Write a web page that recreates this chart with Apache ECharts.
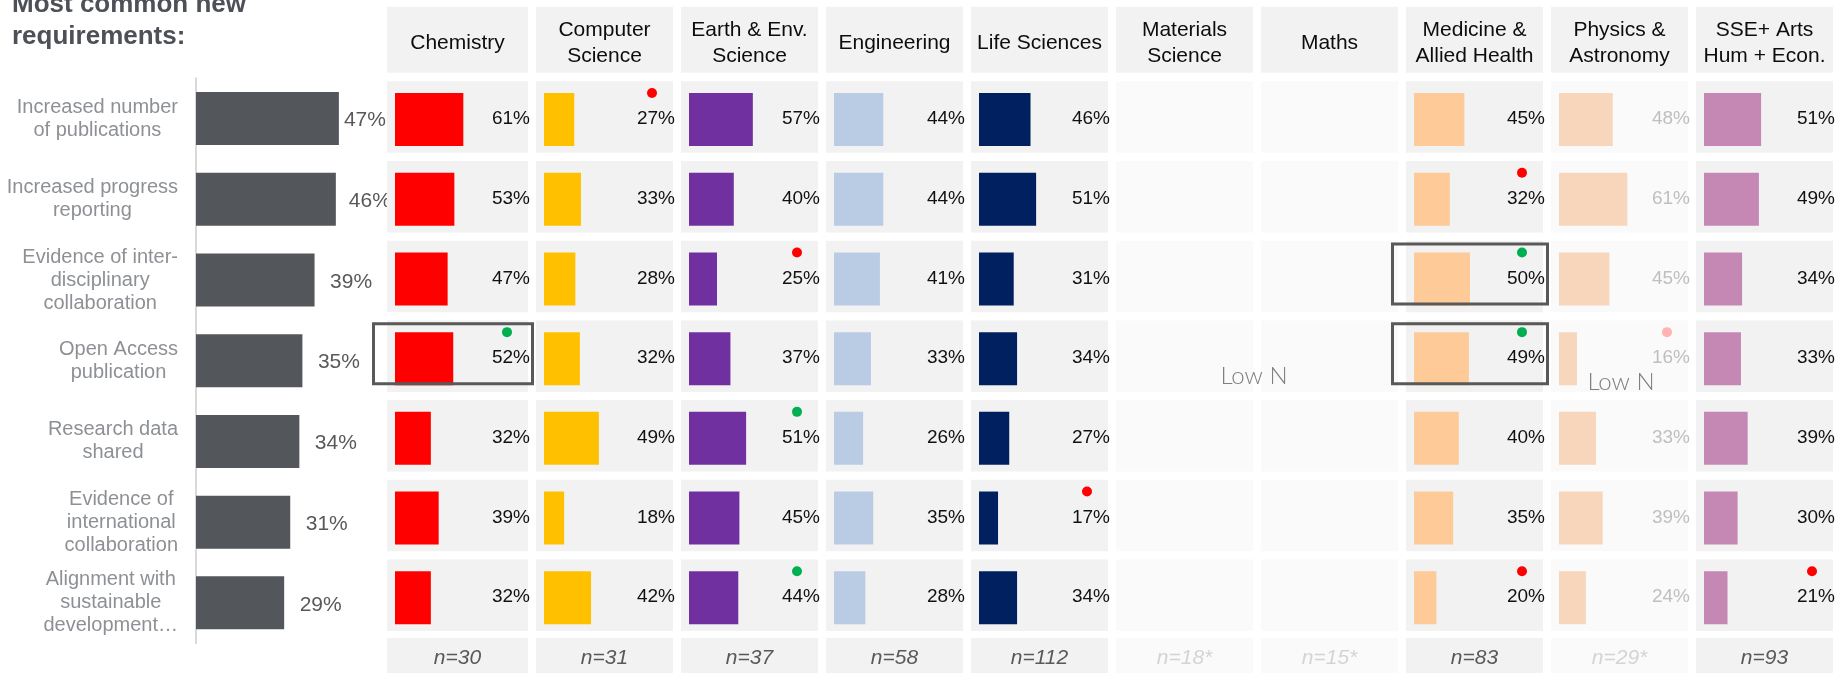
<!DOCTYPE html>
<html><head><meta charset="utf-8">
<script src="https://cdn.jsdelivr.net/npm/echarts@6/dist/echarts.min.js"></script>
<style>html,body{margin:0;padding:0;background:#fff}#c{width:1835px;height:673px}</style>
</head><body><div id="c"></div>
<script>
// ---------------- DATA ----------------
const titleText = 'Most common new\nrequirements:';
const rowLabels = [
  'Increased number\nof publications',
  'Increased progress\nreporting',
  'Evidence of inter-\ndisciplinary\ncollaboration',
  'Open Access\npublication',
  'Research data\nshared',
  'Evidence of\ninternational\ncollaboration',
  'Alignment with\nsustainable\ndevelopment\u2026'
];
const overall = [47, 46, 39, 35, 34, 31, 29];
const columnNames = ['Chemistry', 'Computer\nScience', 'Earth & Env.\nScience', 'Engineering', 'Life Sciences',
  'Materials\nScience', 'Maths', 'Medicine &\nAllied Health', 'Physics &\nAstronomy', 'SSE+ Arts\nHum + Econ.'];
const nLabels = ['n=30', 'n=31', 'n=37', 'n=58', 'n=112', 'n=18*', 'n=15*', 'n=83', 'n=29*', 'n=93'];
const chemistry = [61, 53, 47, 52, 32, 39, 32];
const computerScience = [27, 33, 28, 32, 49, 18, 42];
const earthEnv = [57, 40, 25, 37, 51, 45, 44];
const engineering = [44, 44, 41, 33, 26, 35, 28];
const lifeSciences = [46, 51, 31, 34, 27, 17, 34];
const materialsScience = [];   // low N: not shown
const maths = [];              // low N: not shown
const medicine = [45, 32, 50, 49, 40, 35, 20];
const physics = [48, 61, 45, 16, 33, 39, 24];
const sseArtsHumEcon = [51, 49, 34, 33, 39, 30, 21];
const lowNColumns = [5, 6, 8];
// significance markers: [column, row, direction]
const markers = [[1, 0, 'down'], [2, 2, 'down'], [0, 3, 'up'], [2, 4, 'up'], [2, 6, 'up'], [4, 5, 'down'],
  [7, 1, 'down'], [7, 2, 'up'], [7, 3, 'up'], [7, 6, 'down'], [8, 3, 'down'], [9, 6, 'down']];
// highlighted cells: [column, row]
const boxes = [[0, 3], [7, 2], [7, 3]];
const lowNNote = 'Low N';

// ---------------- STYLE ----------------
const colValues = [chemistry, computerScience, earthEnv, engineering, lifeSciences, materialsScience, maths, medicine, physics, sseArtsHumEcon];
const colColors = ['#ff0000', '#ffc000', '#7030a0', '#b9cce4', '#002060', '#cccccc', '#cccccc', '#fdca98', '#f7d6bb', '#c587b4'];
const FONT = '"Liberation Sans", Arial, sans-serif';
const PX = 1.12, BAR_PAD = 8, BAND = 79.7;

const grids = [], xAxes = [], yAxes = [], series = [];
// Left overview chart
grids.push({left: 196, top: 78.2, width: 182.4, height: 565, outerBoundsMode: 'none'});
xAxes.push({gridIndex: 0, type: 'value', min: 0, max: 60, show: false});
yAxes.push({gridIndex: 0, type: 'category', inverse: true, data: rowLabels,
  axisLine: {show: true, lineStyle: {color: '#d9d9d9', width: 2}}, axisTick: {show: false},
  axisLabel: {interval: 0, margin: 18, align: 'right',
    formatter: v => v.split('\n').map(l => '{c|' + l + '}').join('\n'),
    rich: {c: {align: 'center', fontSize: 20, lineHeight: 23, color: '#8d9095', fontFamily: FONT}}}});
series.push({type: 'bar', xAxisIndex: 0, yAxisIndex: 0, z: 1, barWidth: 53, silent: true,
  itemStyle: {color: '#53565a'},
  data: overall.map((v, i) => ({value: v, label: {distance: i === 0 ? 5 : (i === 1 ? 13 : 15.5)}})),
  label: {show: true, position: 'right', offset: [0, 2], formatter: '{c}%', fontSize: 21, color: '#595959', fontFamily: FONT}});

const bandCats = ['header'].concat(rowLabels.map((r, i) => 'r' + i), ['footer']);
columnNames.forEach((name, c) => {
  const gi = c + 1;
  const left = c === 0 ? 387 : 391 + 145 * c;
  const width = c === 0 ? 141 : 137;
  const faded = lowNColumns.includes(c);
  grids.push({left, top: 0, width, height: 9 * BAND, outerBoundsMode: 'none'});
  xAxes.push({gridIndex: gi, type: 'value', min: -BAR_PAD / PX, max: (width - BAR_PAD) / PX, show: false});
  yAxes.push({gridIndex: gi, type: 'category', inverse: true, data: bandCats, show: false});
  // cells, header, footer
  series.push({type: 'custom', xAxisIndex: gi, yAxisIndex: gi, z: 2, silent: true, clip: false,
    data: bandCats.map((b, k) => [0, k]),
    renderItem: (params, api) => {
      const k = api.value(1);
      const cy = api.coord([0, k])[1];
      const cs = params.coordSys;
      const ch = [];
      if (k === 0) {
        ch.push({type: 'rect', shape: {x: cs.x, y: cy - 33, width: cs.width, height: 66}, style: {fill: '#f2f2f2'}});
        ch.push({type: 'text', style: {text: name, x: cs.x + cs.width / 2, y: cy + 3.6, align: 'center', verticalAlign: 'middle',
          fontSize: 21, fontFamily: FONT, lineHeight: 26, fill: '#0d0d0d'}});
      } else if (k === 8) {
        ch.push({type: 'rect', shape: {x: cs.x, y: cy - 39.5, width: cs.width, height: 80}, style: {fill: faded ? '#fafafa' : '#f2f2f2'}});
        ch.push({type: 'text', style: {text: nLabels[c], x: cs.x + cs.width / 2, y: cy - 19.4, align: 'center', verticalAlign: 'middle',
          fontSize: 21, fontStyle: 'italic', fontFamily: FONT, fill: faded ? '#d4d4d4' : '#595959'}});
      } else {
        ch.push({type: 'rect', shape: {x: cs.x, y: cy - 2.5 - 35.75, width: cs.width, height: 71.5}, style: {fill: faded ? '#fafafa' : '#f2f2f2'}});
      }
      return {type: 'group', children: ch};
    }});
  const vals = colValues[c];
  if (vals.length) {
    series.push({type: 'bar', xAxisIndex: gi, yAxisIndex: gi, z: 3, barWidth: 53, silent: true,
      itemStyle: {color: colColors[c]}, data: ['-'].concat(vals, ['-'])});
    series.push({type: 'custom', xAxisIndex: gi, yAxisIndex: gi, z: 4, silent: true, clip: false,
      data: vals.map((v, i) => [v, i + 1]),
      renderItem: (params, api) => {
        const v = api.value(0), k = api.value(1), r = k - 1;
        const cy = api.coord([0, k])[1];
        const cs = params.coordSys;
        const ch = [{type: 'text', style: {text: v + '%', x: cs.x + cs.width + 2, y: cy - 0.5, align: 'right', verticalAlign: 'middle',
          fontSize: 19, fontFamily: FONT, fill: faded ? '#bfbfbf' : '#111111'}}];
        const m = markers.find(mk => mk[0] === c && mk[1] === r);
        if (m) {
          let col = m[2] === 'up' ? '#00b050' : '#ff0000';
          if (faded) col = m[2] === 'up' ? '#99dfb9' : '#ffb3b3';
          ch.push({type: 'circle', shape: {cx: cs.x + cs.width - 21, cy: cy - 26.5, r: 5}, style: {fill: col}});
        }
        if (boxes.some(b => b[0] === c && b[1] === r)) {
          ch.push({type: 'rect', shape: {x: cs.x - 13.5, y: cy - 35, width: cs.width + 18, height: 60},
            style: {fill: 'none', stroke: '#595959', lineWidth: 3}});
        }
        return {type: 'group', children: ch};
      }});
  }
});

const colLeft = c => 391 + 145 * c;
const graphic = [
  {type: 'text', z: 10, silent: true, style: {text: lowNNote, x: (colLeft(5) + 137 + colLeft(6)) / 2 - 3, y: 4.5 * BAND + 17.4,
    align: 'center', verticalAlign: 'middle', fontSize: 24, fontWeight: 300, fontFamily: 'Lato, "DejaVu Sans", sans-serif', fill: '#7f7f7f'}},
  {type: 'text', z: 10, silent: true, style: {text: lowNNote, x: colLeft(8) + 137 / 2 + 1.5, y: 4.5 * BAND + 23.4,
    align: 'center', verticalAlign: 'middle', fontSize: 24, fontWeight: 300, fontFamily: 'Lato, "DejaVu Sans", sans-serif', fill: '#7f7f7f'}}
];

const chart = echarts.init(document.getElementById('c'), null, {renderer: 'canvas'});
chart.setOption({
  animation: false,
  backgroundColor: '#ffffff',
  textStyle: {fontFamily: FONT},
  title: {text: titleText, left: 12, top: -11, padding: 0,
    textStyle: {fontSize: 26, fontWeight: 'bold', lineHeight: 31.7, color: '#4d5157', fontFamily: FONT}},
  grid: grids, xAxis: xAxes, yAxis: yAxes, series, graphic
});
</script></body></html>
